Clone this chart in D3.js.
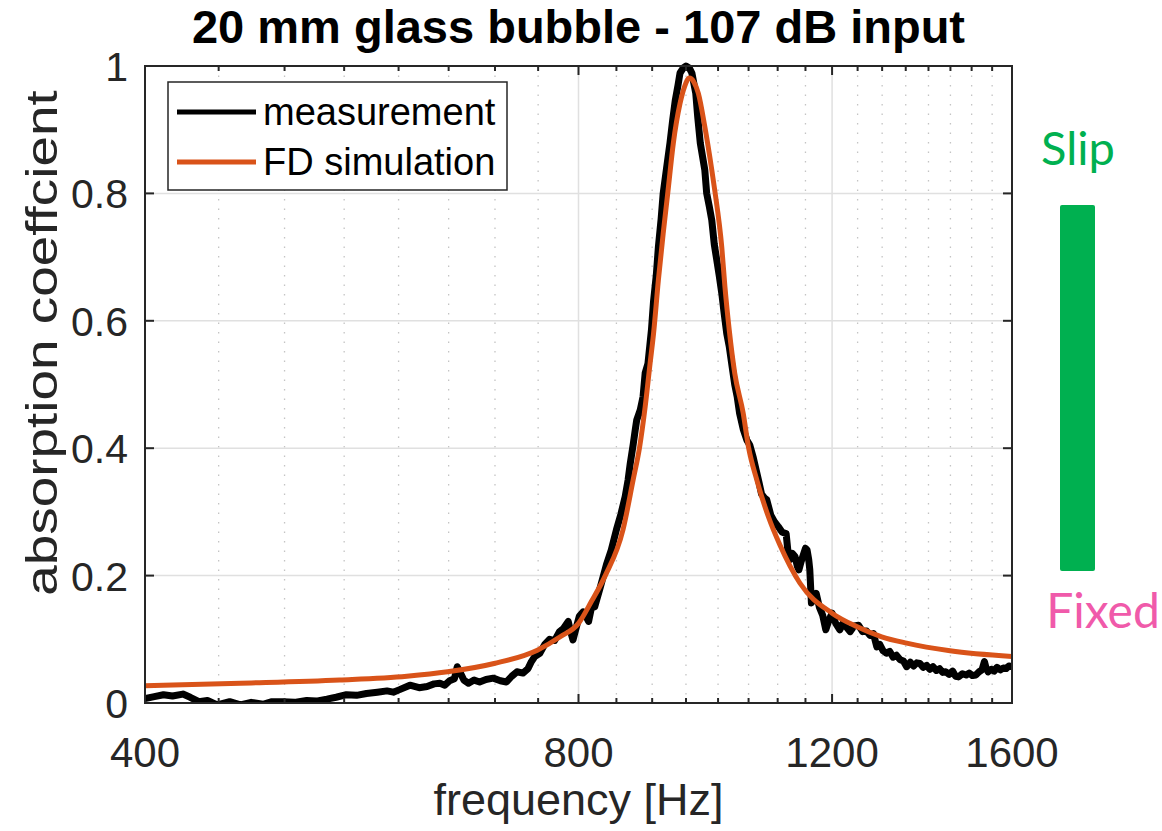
<!DOCTYPE html>
<html>
<head>
<meta charset="utf-8">
<script src="https://cdn.jsdelivr.net/npm/d3@7"></script>
<style>
  body { margin: 0; background: #fff; }
  text { font-family: "Liberation Sans", Arial, sans-serif; fill: #262626; }
</style>
</head>
<body>
<div id="chart"></div>
<script>
// measured absorption (black)
var measFreq = [400, 406, 412, 418, 425, 430, 436, 442, 449, 458, 466, 474, 483, 490, 499, 508, 518, 526, 535, 543,
  552, 561, 570, 580, 589, 595, 601, 611, 620, 628, 635, 641, 646, 651, 656, 659, 662, 666, 671, 677,
  683, 690, 698, 706, 713, 719, 725, 732, 738, 742, 746, 752, 758, 764, 770, 776, 781, 787, 790, 793,
  797, 801, 806, 810, 813, 818, 821, 828, 837, 843, 850, 856, 862, 866, 869, 873, 876, 878, 883, 887,
  890, 894, 899, 902, 906, 909, 913, 916, 921, 926, 930, 934, 938, 941, 946, 950, 955, 959, 965, 968,
  972, 979, 982, 986, 990, 994, 998, 1002, 1006, 1010, 1014, 1018, 1022, 1027, 1031, 1035, 1041, 1047, 1052, 1058,
  1063, 1068, 1072, 1077, 1081, 1088, 1094, 1101, 1108, 1115, 1118, 1122, 1126, 1131, 1135, 1138, 1142, 1147, 1150, 1153,
  1156, 1158, 1161, 1166, 1170, 1176, 1182, 1188, 1194, 1200, 1207, 1215, 1221, 1227, 1235, 1243, 1252, 1260, 1268, 1275,
  1282, 1289, 1295, 1302, 1309, 1316, 1323, 1330, 1338, 1345, 1352, 1360, 1367, 1374, 1381, 1388, 1396, 1403, 1410, 1418,
  1425, 1432, 1439, 1447, 1455, 1462, 1469, 1478, 1487, 1494, 1502, 1510, 1518, 1525, 1531, 1535, 1540, 1548, 1555, 1562,
  1570, 1578, 1585, 1592, 1600];
var measAlpha = [0.007, 0.010, 0.013, 0.011, 0.014, 0.009, 0.002, 0.004, -0.003, 0.002, -0.003, 0.001, -0.002, 0.002, 0.002, 0.001, 0.004, 0.003, 0.006, 0.009,
  0.013, 0.012, 0.015, 0.017, 0.019, 0.017, 0.021, 0.028, 0.024, 0.026, 0.030, 0.031, 0.028, 0.035, 0.038, 0.057, 0.048, 0.036, 0.031, 0.036,
  0.033, 0.037, 0.039, 0.035, 0.033, 0.042, 0.049, 0.047, 0.054, 0.065, 0.073, 0.078, 0.092, 0.100, 0.098, 0.112, 0.117, 0.128, 0.112, 0.099,
  0.118, 0.136, 0.143, 0.135, 0.128, 0.157, 0.151, 0.180, 0.219, 0.240, 0.272, 0.296, 0.324, 0.350, 0.376, 0.405, 0.429, 0.444, 0.460, 0.481,
  0.518, 0.533, 0.586, 0.631, 0.672, 0.716, 0.760, 0.800, 0.840, 0.879, 0.915, 0.947, 0.970, 0.989, 0.997, 1.000, 0.997, 0.989, 0.957, 0.920,
  0.879, 0.837, 0.800, 0.780, 0.758, 0.720, 0.695, 0.670, 0.643, 0.610, 0.580, 0.560, 0.533, 0.500, 0.481, 0.455, 0.430, 0.413, 0.405, 0.385,
  0.365, 0.345, 0.328, 0.322, 0.319, 0.295, 0.285, 0.277, 0.268, 0.266, 0.240, 0.225, 0.235, 0.230, 0.215, 0.209, 0.222, 0.235, 0.243, 0.240,
  0.225, 0.209, 0.157, 0.165, 0.172, 0.150, 0.138, 0.115, 0.130, 0.141, 0.125, 0.115, 0.125, 0.120, 0.112, 0.121, 0.122, 0.112, 0.113, 0.106,
  0.109, 0.088, 0.092, 0.082, 0.078, 0.081, 0.072, 0.075, 0.068, 0.066, 0.057, 0.064, 0.058, 0.063, 0.062, 0.056, 0.059, 0.053, 0.057, 0.051,
  0.054, 0.048, 0.049, 0.045, 0.050, 0.042, 0.041, 0.046, 0.044, 0.047, 0.043, 0.044, 0.049, 0.052, 0.065, 0.055, 0.049, 0.053, 0.050, 0.056,
  0.052, 0.055, 0.054, 0.058, 0.057];

// FD simulation (orange)
var simFreq = [400, 466, 546, 608, 649, 699, 749, 777, 800, 817, 835, 859, 873, 882, 890, 897, 902, 909, 916, 923,
  931, 941, 948, 955, 962, 969, 979, 990, 995, 1006, 1011, 1018, 1027, 1041, 1050, 1064, 1074, 1084, 1104, 1140,
  1200, 1248, 1299, 1352, 1449, 1600];
var simAlpha = [0.027, 0.031, 0.036, 0.042, 0.049, 0.062, 0.083, 0.104, 0.125, 0.160, 0.200, 0.272, 0.350, 0.401, 0.465, 0.533, 0.580, 0.664, 0.737, 0.803,
  0.879, 0.941, 0.968, 0.981, 0.975, 0.957, 0.905, 0.837, 0.803, 0.715, 0.654, 0.586, 0.518, 0.455, 0.401, 0.350, 0.319, 0.292, 0.248, 0.188,
  0.141, 0.120, 0.104, 0.094, 0.082, 0.073];

var xTicks = [400, 800, 1200, 1600];
var xMinor = d3.range(450, 1600, 50).filter(function (f) { return f % 400 !== 0; });
var yTicks = [0, 0.2, 0.4, 0.6, 0.8, 1];
var seriesNames = ["measurement", "FD simulation"];
var seriesColors = ["#000000", "#D95319"];

var W = 1162, H = 831;
// plot box (named to avoid window.top)
var box = { l: 145, r: 1012, t: 66, b: 703 };

var svg = d3.select("#chart").append("svg")
    .attr("width", W).attr("height", H);

var x = d3.scaleLog().domain([400, 1600]).range([box.l, box.r]);
var y = d3.scaleLinear().domain([0, 1]).range([box.b, box.t]);

// grid
var grid = svg.append("g");
grid.selectAll(".minor").data(xMinor).enter().append("line")
    .attr("x1", function (d) { return x(d); }).attr("x2", function (d) { return x(d); })
    .attr("y1", box.t).attr("y2", box.b)
    .attr("stroke", "#c4c4c4").attr("stroke-width", 1.3).attr("stroke-dasharray", "1.5,8");
grid.selectAll(".xmaj").data(xTicks.slice(1, -1)).enter().append("line")
    .attr("x1", function (d) { return x(d); }).attr("x2", function (d) { return x(d); })
    .attr("y1", box.t).attr("y2", box.b)
    .attr("stroke", "#e0e0e0").attr("stroke-width", 1.5);
grid.selectAll(".ymaj").data(yTicks.slice(1, -1)).enter().append("line")
    .attr("x1", box.l).attr("x2", box.r)
    .attr("y1", function (d) { return y(d); }).attr("y2", function (d) { return y(d); })
    .attr("stroke", "#e0e0e0").attr("stroke-width", 1.5);

// clip
svg.append("clipPath").attr("id", "clip").append("rect")
    .attr("x", box.l).attr("y", box.t - 4).attr("width", box.r - box.l).attr("height", box.b - box.t + 4);

var meas = measFreq.map(function (f, i) { return [f, measAlpha[i]]; });
var sim = simFreq.map(function (f, i) { return [f, simAlpha[i]]; });

var line = d3.line()
    .x(function (d) { return x(d[0]); })
    .y(function (d) { return y(d[1]); });

var plot = svg.append("g").attr("clip-path", "url(#clip)");
plot.append("path").datum(meas)
    .attr("d", line)
    .attr("fill", "none").attr("stroke", seriesColors[0])
    .attr("stroke-width", 7).attr("stroke-linejoin", "round");
plot.append("path").datum(sim)
    .attr("d", line.curve(d3.curveMonotoneX))
    .attr("fill", "none").attr("stroke", seriesColors[1])
    .attr("stroke-width", 5);

// axes (box with inward ticks)
var axisCol = "#262626";
var ax = svg.append("g");
ax.append("rect").attr("x", box.l).attr("y", box.t)
    .attr("width", box.r - box.l).attr("height", box.b - box.t)
    .attr("fill", "none").attr("stroke", axisCol).attr("stroke-width", 2);

[box.b, box.t].forEach(function (yy) {
    var dir = yy === box.b ? -1 : 1;
    ax.selectAll(null).data(xTicks).enter().append("line")
        .attr("x1", function (d) { return x(d); }).attr("x2", function (d) { return x(d); })
        .attr("y1", yy).attr("y2", yy + dir * 9)
        .attr("stroke", axisCol).attr("stroke-width", 2);
    ax.selectAll(null).data(xMinor).enter().append("line")
        .attr("x1", function (d) { return x(d); }).attr("x2", function (d) { return x(d); })
        .attr("y1", yy).attr("y2", yy + dir * 5)
        .attr("stroke", axisCol).attr("stroke-width", 2);
});
[box.l, box.r].forEach(function (xx) {
    var dir = xx === box.l ? 1 : -1;
    ax.selectAll(null).data(yTicks).enter().append("line")
        .attr("x1", xx).attr("x2", xx + dir * 9)
        .attr("y1", function (d) { return y(d); }).attr("y2", function (d) { return y(d); })
        .attr("stroke", axisCol).attr("stroke-width", 2);
});

ax.selectAll(".xl").data(xTicks).enter().append("text")
    .attr("x", function (d) { return x(d); }).attr("y", box.b + 64)
    .attr("text-anchor", "middle").attr("font-size", 42)
    .text(function (d) { return d; });
ax.selectAll(".yl").data(yTicks).enter().append("text")
    .attr("x", box.l - 17).attr("y", function (d) { return y(d) + 15; })
    .attr("text-anchor", "end").attr("font-size", 41)
    .text(function (d) { return d; });

// labels
svg.append("text").attr("x", (box.l + box.r) / 2).attr("y", 815)
    .attr("text-anchor", "middle").attr("font-size", 45)
    .text("frequency [Hz]");
svg.append("text")
    .attr("transform", "translate(57,343) rotate(-90) scale(1.22,1)")
    .attr("text-anchor", "middle").attr("font-size", 45)
    .text("absorption coeffcient");
svg.append("text").attr("x", (box.l + box.r) / 2).attr("y", 43)
    .attr("text-anchor", "middle").attr("font-size", 47).attr("font-weight", "bold")
    .style("fill", "#000")
    .text("20 mm glass bubble - 107 dB input");

// legend
var lg = svg.append("g");
lg.append("rect").attr("x", 168).attr("y", 82).attr("width", 339).attr("height", 108)
    .attr("fill", "#fff").attr("stroke", axisCol).attr("stroke-width", 1.5);
seriesNames.forEach(function (n, i) {
    var ly = 112 + i * 50;
    lg.append("line").attr("x1", 177).attr("x2", 256).attr("y1", ly).attr("y2", ly)
        .attr("stroke", seriesColors[i]).attr("stroke-width", 5);
    lg.append("text").attr("x", 263).attr("y", ly + 13)
        .attr("font-size", 38).style("fill", "#000").text(n);
});

// slip / fixed annotation
var ann = svg.append("g");
ann.append("text").attr("x", 1078).attr("y", 165).attr("text-anchor", "middle")
    .attr("font-size", 47).style("font-family", "Lato, 'Noto Sans', sans-serif")
    .style("fill", "#00B050").text("Slip");
ann.append("rect").attr("x", 1060).attr("y", 205).attr("width", 35).attr("height", 366)
    .attr("rx", 2).attr("fill", "#00B050");
ann.append("text").attr("x", 1103).attr("y", 628).attr("text-anchor", "middle")
    .attr("font-size", 48).style("font-family", "Lato, 'Noto Sans', sans-serif")
    .style("fill", "#F05AAA").text("Fixed");
</script>
</body>
</html>
